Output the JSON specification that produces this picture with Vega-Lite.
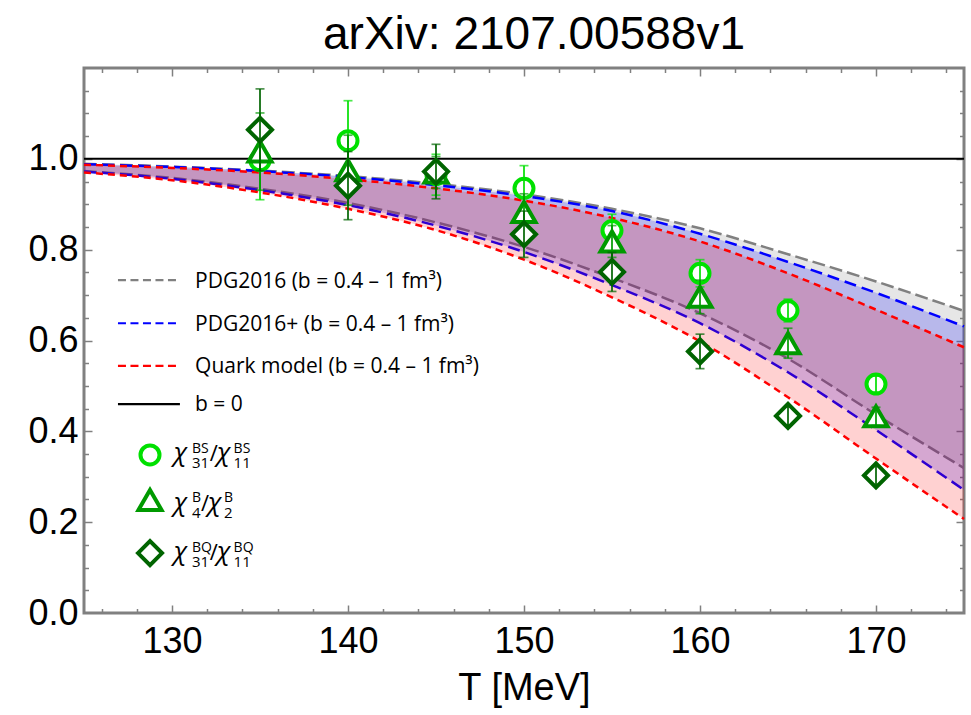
{
 "$schema": "https://vega.github.io/schema/vega-lite/v6.json",
 "width": 880,
 "height": 545,
 "autosize": {"type": "none"},
 "padding": {"left": 84, "top": 68, "right": 7, "bottom": 102},
 "background": "white",
 "title": {"text": "arXiv: 2107.00588v1", "fontSize": 46, "font": "Liberation Sans", "fontWeight": "normal", "color": "black", "anchor": "middle", "offset": 8, "dx": 10},
 "config": {"view": {"stroke": "#808080", "strokeWidth": 3}, "axis": {"grid": false, "domain": false}},
 "resolve": {"axis": {"x": "independent", "y": "independent"}},
 "datasets": {
  "curves": [
   {"T": 125, "model": "PDG2016", "up": 0.989, "lo": 0.973},
   {"T": 130, "model": "PDG2016", "up": 0.983, "lo": 0.958},
   {"T": 135, "model": "PDG2016", "up": 0.974, "lo": 0.934},
   {"T": 140, "model": "PDG2016", "up": 0.962, "lo": 0.903},
   {"T": 145, "model": "PDG2016", "up": 0.945, "lo": 0.860},
   {"T": 150, "model": "PDG2016", "up": 0.922, "lo": 0.806},
   {"T": 155, "model": "PDG2016", "up": 0.890, "lo": 0.738},
   {"T": 160, "model": "PDG2016", "up": 0.847, "lo": 0.660},
   {"T": 165, "model": "PDG2016", "up": 0.790, "lo": 0.560},
   {"T": 170, "model": "PDG2016", "up": 0.730, "lo": 0.437},
   {"T": 175, "model": "PDG2016", "up": 0.665, "lo": 0.319},
   {"T": 125, "model": "PDG2016+", "up": 0.988, "lo": 0.972},
   {"T": 130, "model": "PDG2016+", "up": 0.982, "lo": 0.956},
   {"T": 135, "model": "PDG2016+", "up": 0.973, "lo": 0.931},
   {"T": 140, "model": "PDG2016+", "up": 0.960, "lo": 0.898},
   {"T": 145, "model": "PDG2016+", "up": 0.942, "lo": 0.853},
   {"T": 150, "model": "PDG2016+", "up": 0.918, "lo": 0.795},
   {"T": 155, "model": "PDG2016+", "up": 0.885, "lo": 0.722},
   {"T": 160, "model": "PDG2016+", "up": 0.835, "lo": 0.638},
   {"T": 165, "model": "PDG2016+", "up": 0.773, "lo": 0.530},
   {"T": 170, "model": "PDG2016+", "up": 0.705, "lo": 0.403},
   {"T": 175, "model": "PDG2016+", "up": 0.631, "lo": 0.271},
   {"T": 125, "model": "Quark", "up": 0.987, "lo": 0.970},
   {"T": 130, "model": "Quark", "up": 0.980, "lo": 0.953},
   {"T": 135, "model": "Quark", "up": 0.970, "lo": 0.926},
   {"T": 140, "model": "Quark", "up": 0.955, "lo": 0.890},
   {"T": 145, "model": "Quark", "up": 0.935, "lo": 0.843},
   {"T": 150, "model": "Quark", "up": 0.908, "lo": 0.778},
   {"T": 155, "model": "Quark", "up": 0.870, "lo": 0.695},
   {"T": 160, "model": "Quark", "up": 0.818, "lo": 0.598},
   {"T": 165, "model": "Quark", "up": 0.748, "lo": 0.475},
   {"T": 170, "model": "Quark", "up": 0.668, "lo": 0.340},
   {"T": 175, "model": "Quark", "up": 0.585, "lo": 0.207}
  ],
  "pts": [
   {"T": 135, "s": "BS", "v": 0.996, "e": 0.086},
   {"T": 140, "s": "BS", "v": 1.040, "e": 0.088},
   {"T": 145, "s": "BS", "v": 0.965, "e": 0.045},
   {"T": 150, "s": "BS", "v": 0.935, "e": 0.050},
   {"T": 155, "s": "BS", "v": 0.842, "e": 0.036},
   {"T": 160, "s": "BS", "v": 0.748, "e": 0.030},
   {"T": 165, "s": "BS", "v": 0.666, "e": 0.025},
   {"T": 170, "s": "BS", "v": 0.504, "e": 0.018},
   {"T": 135, "s": "B", "v": 1.016, "e": 0.085},
   {"T": 140, "s": "B", "v": 0.975, "e": 0.077},
   {"T": 145, "s": "B", "v": 0.970, "e": 0.035},
   {"T": 150, "s": "B", "v": 0.883, "e": 0.040},
   {"T": 155, "s": "B", "v": 0.818, "e": 0.035},
   {"T": 160, "s": "B", "v": 0.696, "e": 0.037},
   {"T": 165, "s": "B", "v": 0.594, "e": 0.033},
   {"T": 170, "s": "B", "v": 0.433, "e": 0.020},
   {"T": 135, "s": "BQ", "v": 1.064, "e": 0.090},
   {"T": 140, "s": "BQ", "v": 0.941, "e": 0.075},
   {"T": 145, "s": "BQ", "v": 0.972, "e": 0.060},
   {"T": 150, "s": "BQ", "v": 0.834, "e": 0.051},
   {"T": 155, "s": "BQ", "v": 0.751, "e": 0.043},
   {"T": 160, "s": "BQ", "v": 0.576, "e": 0.038},
   {"T": 165, "s": "BQ", "v": 0.434, "e": 0.020},
   {"T": 170, "s": "BQ", "v": 0.303, "e": 0.020}
  ]
 },
 "layer": [
  {"data": {"name": "curves"}, "transform": [{"filter": "datum.model === 'PDG2016'"}],
   "mark": {"type": "area", "color": "#808080", "opacity": 0.2, "interpolate": "monotone"},
   "encoding": {
    "x": {"field": "T", "type": "quantitative", "scale": {"domain": [125, 175], "nice": false, "zero": false},
          "axis": {"orient": "bottom", "values": [130, 140, 150, 160, 170], "ticks": false, "labelFontSize": 36, "labelFont": "Liberation Sans", "labelColor": "black", "labelPadding": 11, "title": "T [MeV]", "titleFontSize": 38, "titleFont": "Liberation Sans", "titleFontWeight": "normal", "titleColor": "black", "titlePadding": 10}},
    "y": {"field": "lo", "type": "quantitative", "scale": {"domain": [0, 1.2], "nice": false, "zero": false},
          "axis": {"orient": "left", "values": [0, 0.2, 0.4, 0.6, 0.8, 1.0], "format": ".1f", "ticks": false, "labelFontSize": 36, "labelFont": "Liberation Sans", "labelColor": "black", "labelPadding": 6, "title": null}},
    "y2": {"field": "up"}
   }},
  {"data": {"name": "curves"}, "transform": [{"filter": "datum.model === 'PDG2016'"}],
   "mark": {"type": "line", "color": "#808080", "strokeWidth": 2.5, "strokeDash": [13, 5], "interpolate": "monotone"},
   "encoding": {
    "x": {"field": "T", "type": "quantitative", "scale": {"domain": [125, 175], "nice": false, "zero": false},
          "axis": {"orient": "bottom", "values": [130, 140, 150, 160, 170], "labels": false, "tickSize": -8, "tickColor": "#808080", "tickWidth": 1.5, "title": null}},
    "y": {"field": "up", "type": "quantitative", "scale": {"domain": [0, 1.2], "nice": false, "zero": false},
          "axis": {"orient": "left", "values": [0.2, 0.4, 0.6, 0.8, 1.0], "labels": false, "tickSize": -8, "tickColor": "#808080", "tickWidth": 1.5, "title": null}}
   }},
  {"data": {"name": "curves"}, "transform": [{"filter": "datum.model === 'PDG2016'"}],
   "mark": {"type": "line", "color": "#808080", "strokeWidth": 2.5, "strokeDash": [13, 5], "interpolate": "monotone"},
   "encoding": {
    "x": {"field": "T", "type": "quantitative", "scale": {"domain": [125, 175], "nice": false, "zero": false},
          "axis": {"orient": "bottom", "values": [126, 128, 132, 134, 136, 138, 142, 144, 146, 148, 152, 154, 156, 158, 162, 164, 166, 168, 172, 174], "labels": false, "tickSize": -4.5, "tickColor": "#808080", "tickWidth": 1.5, "title": null}},
    "y": {"field": "lo", "type": "quantitative", "scale": {"domain": [0, 1.2], "nice": false, "zero": false},
          "axis": {"orient": "left", "values": [0.05, 0.1, 0.15, 0.25, 0.3, 0.35, 0.45, 0.5, 0.55, 0.65, 0.7, 0.75, 0.85, 0.9, 0.95, 1.05, 1.1, 1.15], "labels": false, "tickSize": -4.5, "tickColor": "#808080", "tickWidth": 1.5, "title": null}}
   }},
  {"data": {"name": "curves"}, "transform": [{"filter": "datum.model === 'PDG2016+'"}],
   "mark": {"type": "area", "color": "#0000ff", "opacity": 0.2, "interpolate": "monotone"},
   "encoding": {
    "x": {"field": "T", "type": "quantitative", "scale": {"domain": [125, 175], "nice": false, "zero": false},
          "axis": {"orient": "top", "values": [130, 140, 150, 160, 170], "labels": false, "tickSize": -8, "tickColor": "#808080", "tickWidth": 1.5, "title": null}},
    "y": {"field": "lo", "type": "quantitative", "scale": {"domain": [0, 1.2], "nice": false, "zero": false},
          "axis": {"orient": "right", "values": [0.2, 0.4, 0.6, 0.8, 1.0], "labels": false, "tickSize": -8, "tickColor": "#808080", "tickWidth": 1.5, "title": null}},
    "y2": {"field": "up"}
   }},
  {"data": {"name": "curves"}, "transform": [{"filter": "datum.model === 'PDG2016+'"}],
   "mark": {"type": "line", "color": "#0000ff", "strokeWidth": 2.5, "strokeDash": [12, 6], "interpolate": "monotone"},
   "encoding": {
    "x": {"field": "T", "type": "quantitative", "scale": {"domain": [125, 175], "nice": false, "zero": false},
          "axis": {"orient": "top", "values": [126, 128, 132, 134, 136, 138, 142, 144, 146, 148, 152, 154, 156, 158, 162, 164, 166, 168, 172, 174], "labels": false, "tickSize": -4.5, "tickColor": "#808080", "tickWidth": 1.5, "title": null}},
    "y": {"field": "up", "type": "quantitative", "scale": {"domain": [0, 1.2], "nice": false, "zero": false},
          "axis": {"orient": "right", "values": [0.05, 0.1, 0.15, 0.25, 0.3, 0.35, 0.45, 0.5, 0.55, 0.65, 0.7, 0.75, 0.85, 0.9, 0.95, 1.05, 1.1, 1.15], "labels": false, "tickSize": -4.5, "tickColor": "#808080", "tickWidth": 1.5, "title": null}}
   }},
  {"data": {"name": "curves"}, "transform": [{"filter": "datum.model === 'PDG2016+'"}],
   "mark": {"type": "line", "color": "#0000ff", "strokeWidth": 2.5, "strokeDash": [12, 6], "interpolate": "monotone"},
   "encoding": {
    "x": {"field": "T", "type": "quantitative", "axis": null},
    "y": {"field": "lo", "type": "quantitative", "axis": null}
   }},
  {"data": {"name": "curves"}, "transform": [{"filter": "datum.model === 'Quark'"}],
   "mark": {"type": "area", "color": "#ff0000", "opacity": 0.18, "interpolate": "monotone"},
   "encoding": {
    "x": {"field": "T", "type": "quantitative", "axis": null},
    "y": {"field": "lo", "type": "quantitative", "axis": null},
    "y2": {"field": "up"}
   }},
  {"data": {"name": "curves"}, "transform": [{"filter": "datum.model === 'Quark'"}],
   "mark": {"type": "line", "color": "#ff0000", "strokeWidth": 2.5, "strokeDash": [7, 5], "interpolate": "monotone"},
   "encoding": {
    "x": {"field": "T", "type": "quantitative", "axis": null},
    "y": {"field": "up", "type": "quantitative", "axis": null}
   }},
  {"data": {"name": "curves"}, "transform": [{"filter": "datum.model === 'Quark'"}],
   "mark": {"type": "line", "color": "#ff0000", "strokeWidth": 2.5, "strokeDash": [7, 5], "interpolate": "monotone"},
   "encoding": {
    "x": {"field": "T", "type": "quantitative", "axis": null},
    "y": {"field": "lo", "type": "quantitative", "axis": null}
   }},
  {"data": {"values": [{"b": 0}]},
   "mark": {"type": "rule", "color": "black", "strokeWidth": 2},
   "encoding": {"y": {"datum": 1.0, "axis": null}}},

  {"data": {"name": "pts"}, "transform": [{"filter": "datum.s === 'BS'"}],
   "mark": {"type": "point", "shape": "circle", "size": 361, "filled": true, "fill": "white", "stroke": "#00e000", "strokeWidth": 4, "opacity": 1},
   "encoding": {"x": {"field": "T", "type": "quantitative", "axis": null}, "y": {"field": "v", "type": "quantitative", "axis": null}}},
  {"data": {"name": "pts"}, "transform": [{"filter": "datum.s === 'BS'"}],
   "mark": {"type": "errorbar", "ticks": true, "size": 9, "thickness": 1.7, "color": "#00e000"},
   "encoding": {"x": {"field": "T", "type": "quantitative", "axis": null}, "y": {"field": "v", "type": "quantitative", "axis": null}, "yError": {"field": "e"}}},
  {"data": {"name": "pts"}, "transform": [{"filter": "datum.s === 'B'"}],
   "mark": {"type": "point", "shape": "triangle-up", "size": 530, "filled": true, "fill": "white", "stroke": "#009a00", "strokeWidth": 4, "opacity": 1},
   "encoding": {"x": {"field": "T", "type": "quantitative", "axis": null}, "y": {"field": "v", "type": "quantitative", "axis": null}}},
  {"data": {"name": "pts"}, "transform": [{"filter": "datum.s === 'B'"}],
   "mark": {"type": "errorbar", "ticks": true, "size": 9, "thickness": 1.7, "color": "#009a00"},
   "encoding": {"x": {"field": "T", "type": "quantitative", "axis": null}, "y": {"field": "v", "type": "quantitative", "axis": null}, "yError": {"field": "e"}}},
  {"data": {"name": "pts"}, "transform": [{"filter": "datum.s === 'BQ'"}],
   "mark": {"type": "point", "shape": "diamond", "size": 576, "filled": true, "fill": "white", "stroke": "#006400", "strokeWidth": 4, "opacity": 1},
   "encoding": {"x": {"field": "T", "type": "quantitative", "axis": null}, "y": {"field": "v", "type": "quantitative", "axis": null}}},
  {"data": {"name": "pts"}, "transform": [{"filter": "datum.s === 'BQ'"}],
   "mark": {"type": "errorbar", "ticks": true, "size": 9, "thickness": 1.7, "color": "#006400"},
   "encoding": {"x": {"field": "T", "type": "quantitative", "axis": null}, "y": {"field": "v", "type": "quantitative", "axis": null}, "yError": {"field": "e"}}},

  {"data": {"values": [{"m": "PDG2016"}]},
   "mark": {"type": "rule", "color": "#808080", "strokeWidth": 2.2, "strokeDash": [8, 4.5]},
   "encoding": {"x": {"datum": 126.93, "axis": null}, "x2": {"datum": 130.45}, "y": {"datum": 0.733, "axis": null}}},
  {"data": {"values": [{"m": "PDG2016+"}]},
   "mark": {"type": "rule", "color": "#0000ff", "strokeWidth": 2.2, "strokeDash": [8, 4.5]},
   "encoding": {"x": {"datum": 126.93, "axis": null}, "x2": {"datum": 130.45}, "y": {"datum": 0.638, "axis": null}}},
  {"data": {"values": [{"m": "Quark"}]},
   "mark": {"type": "rule", "color": "#ff0000", "strokeWidth": 2.2, "strokeDash": [8, 4.5]},
   "encoding": {"x": {"datum": 126.93, "axis": null}, "x2": {"datum": 130.45}, "y": {"datum": 0.544, "axis": null}}},
  {"data": {"values": [{"m": "b0"}]},
   "mark": {"type": "rule", "color": "black", "strokeWidth": 2.2},
   "encoding": {"x": {"datum": 126.93, "axis": null}, "x2": {"datum": 130.45}, "y": {"datum": 0.460, "axis": null}}},

  {"data": {"values": [{"t": "PDG2016 (b = 0.4 – 1 fm³)"}]},
   "mark": {"type": "text", "align": "left", "baseline": "alphabetic", "font": "Open Sans", "fontSize": 21, "color": "black"},
   "encoding": {"x": {"datum": 131.31, "axis": null}, "y": {"datum": 0.7152, "axis": null}, "text": {"field": "t"}}},
  {"data": {"values": [{"t": "PDG2016+  (b = 0.4 – 1 fm³)"}]},
   "mark": {"type": "text", "align": "left", "baseline": "alphabetic", "font": "Open Sans", "fontSize": 21, "color": "black"},
   "encoding": {"x": {"datum": 131.31, "axis": null}, "y": {"datum": 0.6211, "axis": null}, "text": {"field": "t"}}},
  {"data": {"values": [{"t": "Quark model  (b = 0.4 – 1 fm³)"}]},
   "mark": {"type": "text", "align": "left", "baseline": "alphabetic", "font": "Open Sans", "fontSize": 21, "color": "black"},
   "encoding": {"x": {"datum": 131.31, "axis": null}, "y": {"datum": 0.528, "axis": null}, "text": {"field": "t"}}},
  {"data": {"values": [{"t": "b = 0"}]},
   "mark": {"type": "text", "align": "left", "baseline": "alphabetic", "font": "Open Sans", "fontSize": 21, "color": "black"},
   "encoding": {"x": {"datum": 131.31, "axis": null}, "y": {"datum": 0.4456, "axis": null}, "text": {"field": "t"}}},

  {"data": {"values": [{"s": "BS"}]},
   "mark": {"type": "point", "shape": "circle", "size": 361, "filled": true, "fill": "white", "stroke": "#00e000", "strokeWidth": 4, "opacity": 1},
   "encoding": {"x": {"datum": 128.75, "axis": null}, "y": {"datum": 0.348, "axis": null}}},
  {"data": {"values": [{"s": "B"}]},
   "mark": {"type": "point", "shape": "triangle-up", "size": 530, "filled": true, "fill": "white", "stroke": "#009a00", "strokeWidth": 4, "opacity": 1},
   "encoding": {"x": {"datum": 128.75, "axis": null}, "y": {"datum": 0.249, "axis": null}}},
  {"data": {"values": [{"s": "BQ"}]},
   "mark": {"type": "point", "shape": "diamond", "size": 576, "filled": true, "fill": "white", "stroke": "#006400", "strokeWidth": 4, "opacity": 1},
   "encoding": {"x": {"datum": 128.75, "axis": null}, "y": {"datum": 0.132, "axis": null}}},

  {"data": {"values": [{"t": "χ"}]}, "mark": {"type": "text", "align": "left", "baseline": "alphabetic", "font": "Open Sans", "fontStyle": "italic", "fontSize": 26, "color": "black"},
   "encoding": {"x": {"datum": 130.1, "axis": null}, "y": {"datum": 0.3352, "axis": null}, "text": {"field": "t"}}},
  {"data": {"values": [{"t": "31"}]}, "mark": {"type": "text", "align": "left", "baseline": "alphabetic", "font": "Open Sans", "fontSize": 15, "dy": 7, "color": "black"},
   "encoding": {"x": {"datum": 131.136, "axis": null}, "y": {"datum": 0.3352, "axis": null}, "text": {"field": "t"}}},
  {"data": {"values": [{"t": "BS"}]}, "mark": {"type": "text", "align": "left", "baseline": "alphabetic", "font": "Open Sans", "fontSize": 14, "dy": -8, "color": "black"},
   "encoding": {"x": {"datum": 131.136, "axis": null}, "y": {"datum": 0.3352, "axis": null}, "text": {"field": "t"}}},
  {"data": {"values": [{"t": "/"}]}, "mark": {"type": "text", "align": "left", "baseline": "alphabetic", "font": "Open Sans", "fontSize": 22, "color": "black"},
   "encoding": {"x": {"datum": 132.15, "axis": null}, "y": {"datum": 0.3352, "axis": null}, "text": {"field": "t"}}},
  {"data": {"values": [{"t": "χ"}]}, "mark": {"type": "text", "align": "left", "baseline": "alphabetic", "font": "Open Sans", "fontStyle": "italic", "fontSize": 26, "color": "black"},
   "encoding": {"x": {"datum": 132.56, "axis": null}, "y": {"datum": 0.3352, "axis": null}, "text": {"field": "t"}}},
  {"data": {"values": [{"t": "11"}]}, "mark": {"type": "text", "align": "left", "baseline": "alphabetic", "font": "Open Sans", "fontSize": 15, "dy": 7, "color": "black"},
   "encoding": {"x": {"datum": 133.5, "axis": null}, "y": {"datum": 0.3352, "axis": null}, "text": {"field": "t"}}},
  {"data": {"values": [{"t": "BS"}]}, "mark": {"type": "text", "align": "left", "baseline": "alphabetic", "font": "Open Sans", "fontSize": 14, "dy": -8, "color": "black"},
   "encoding": {"x": {"datum": 133.5, "axis": null}, "y": {"datum": 0.3352, "axis": null}, "text": {"field": "t"}}},

  {"data": {"values": [{"t": "χ"}]}, "mark": {"type": "text", "align": "left", "baseline": "alphabetic", "font": "Open Sans", "fontStyle": "italic", "fontSize": 26, "color": "black"},
   "encoding": {"x": {"datum": 130.1, "axis": null}, "y": {"datum": 0.2247, "axis": null}, "text": {"field": "t"}}},
  {"data": {"values": [{"t": "4"}]}, "mark": {"type": "text", "align": "left", "baseline": "alphabetic", "font": "Open Sans", "fontSize": 15, "dy": 7, "color": "black"},
   "encoding": {"x": {"datum": 131.136, "axis": null}, "y": {"datum": 0.2247, "axis": null}, "text": {"field": "t"}}},
  {"data": {"values": [{"t": "B"}]}, "mark": {"type": "text", "align": "left", "baseline": "alphabetic", "font": "Open Sans", "fontSize": 14, "dy": -9, "color": "black"},
   "encoding": {"x": {"datum": 131.136, "axis": null}, "y": {"datum": 0.2247, "axis": null}, "text": {"field": "t"}}},
  {"data": {"values": [{"t": "/"}]}, "mark": {"type": "text", "align": "left", "baseline": "alphabetic", "font": "Open Sans", "fontSize": 22, "color": "black"},
   "encoding": {"x": {"datum": 131.65, "axis": null}, "y": {"datum": 0.2247, "axis": null}, "text": {"field": "t"}}},
  {"data": {"values": [{"t": "χ"}]}, "mark": {"type": "text", "align": "left", "baseline": "alphabetic", "font": "Open Sans", "fontStyle": "italic", "fontSize": 26, "color": "black"},
   "encoding": {"x": {"datum": 132.05, "axis": null}, "y": {"datum": 0.2247, "axis": null}, "text": {"field": "t"}}},
  {"data": {"values": [{"t": "2"}]}, "mark": {"type": "text", "align": "left", "baseline": "alphabetic", "font": "Open Sans", "fontSize": 15, "dy": 7, "color": "black"},
   "encoding": {"x": {"datum": 132.95, "axis": null}, "y": {"datum": 0.2247, "axis": null}, "text": {"field": "t"}}},
  {"data": {"values": [{"t": "B"}]}, "mark": {"type": "text", "align": "left", "baseline": "alphabetic", "font": "Open Sans", "fontSize": 14, "dy": -9, "color": "black"},
   "encoding": {"x": {"datum": 132.95, "axis": null}, "y": {"datum": 0.2247, "axis": null}, "text": {"field": "t"}}},

  {"data": {"values": [{"t": "χ"}]}, "mark": {"type": "text", "align": "left", "baseline": "alphabetic", "font": "Open Sans", "fontStyle": "italic", "fontSize": 26, "color": "black"},
   "encoding": {"x": {"datum": 130.1, "axis": null}, "y": {"datum": 0.1167, "axis": null}, "text": {"field": "t"}}},
  {"data": {"values": [{"t": "31"}]}, "mark": {"type": "text", "align": "left", "baseline": "alphabetic", "font": "Open Sans", "fontSize": 15, "dy": 7, "color": "black"},
   "encoding": {"x": {"datum": 131.136, "axis": null}, "y": {"datum": 0.1167, "axis": null}, "text": {"field": "t"}}},
  {"data": {"values": [{"t": "BQ"}]}, "mark": {"type": "text", "align": "left", "baseline": "alphabetic", "font": "Open Sans", "fontSize": 14, "dy": -8, "color": "black"},
   "encoding": {"x": {"datum": 131.136, "axis": null}, "y": {"datum": 0.1167, "axis": null}, "text": {"field": "t"}}},
  {"data": {"values": [{"t": "/"}]}, "mark": {"type": "text", "align": "left", "baseline": "alphabetic", "font": "Open Sans", "fontSize": 22, "color": "black"},
   "encoding": {"x": {"datum": 132.15, "axis": null}, "y": {"datum": 0.1167, "axis": null}, "text": {"field": "t"}}},
  {"data": {"values": [{"t": "χ"}]}, "mark": {"type": "text", "align": "left", "baseline": "alphabetic", "font": "Open Sans", "fontStyle": "italic", "fontSize": 26, "color": "black"},
   "encoding": {"x": {"datum": 132.56, "axis": null}, "y": {"datum": 0.1167, "axis": null}, "text": {"field": "t"}}},
  {"data": {"values": [{"t": "11"}]}, "mark": {"type": "text", "align": "left", "baseline": "alphabetic", "font": "Open Sans", "fontSize": 15, "dy": 7, "color": "black"},
   "encoding": {"x": {"datum": 133.5, "axis": null}, "y": {"datum": 0.1167, "axis": null}, "text": {"field": "t"}}},
  {"data": {"values": [{"t": "BQ"}]}, "mark": {"type": "text", "align": "left", "baseline": "alphabetic", "font": "Open Sans", "fontSize": 14, "dy": -8, "color": "black"},
   "encoding": {"x": {"datum": 133.5, "axis": null}, "y": {"datum": 0.1167, "axis": null}, "text": {"field": "t"}}}
 ]
}
